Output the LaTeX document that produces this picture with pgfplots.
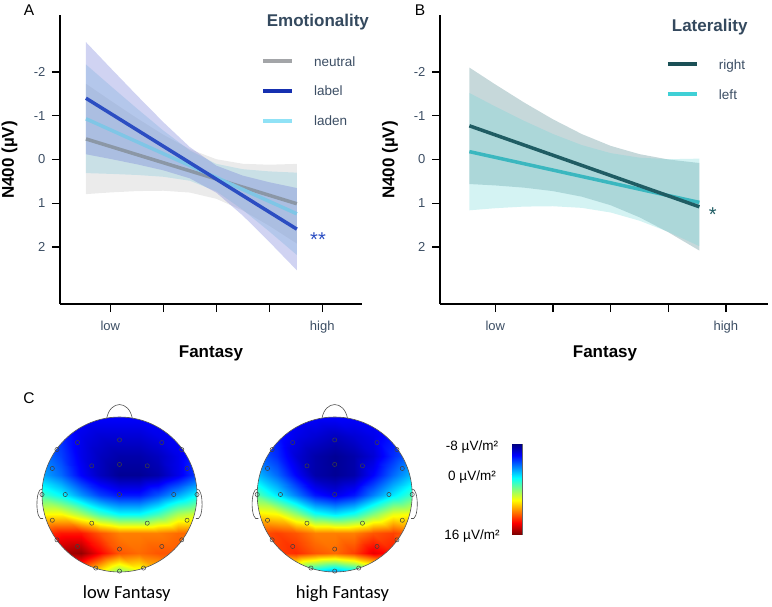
\documentclass[border=0pt]{standalone}
\usepackage{pgfplots}
\usepackage{pgfplotstable}
\pgfplotsset{compat=1.18}
\usepackage{fontspec}
\setmainfont{Liberation Sans}
\newfontfamily\carlito{Carlito}

\definecolor{labcol}{HTML}{3C4E64}
\definecolor{titlecol}{HTML}{34495E}
\definecolor{neutralband}{HTML}{B0B0B0}
\definecolor{ladenband}{HTML}{7CC8DC}
\definecolor{labelband}{HTML}{6F78D8}
\definecolor{neutralline}{HTML}{8B97A6}
\definecolor{labelline}{HTML}{2B4DC2}
\definecolor{ladenline}{HTML}{7FC6E6}
\definecolor{neutralleg}{HTML}{A3A5A8}
\definecolor{labelleg}{HTML}{1630B0}
\definecolor{ladenleg}{HTML}{90E2F6}
\definecolor{rightband}{HTML}{5D8F96}
\definecolor{leftband}{HTML}{6FD6D8}
\definecolor{rightline}{HTML}{1F5C63}
\definecolor{leftline}{HTML}{3AB7BF}
\definecolor{rightleg}{HTML}{1B5056}
\definecolor{leftleg}{HTML}{3FD0D6}
\definecolor{headcol}{HTML}{505050}

\newcommand{\ticksz}{\fontsize{13}{15}\selectfont}
\newcommand{\legsz}{\fontsize{13.5}{16}\selectfont}
\newcommand{\labsz}{\fontsize{17}{20}\selectfont\bfseries}

% topographic maps: x y value (µV/m^2)
\pgfplotstableread{
x y v
-1 -1 10
-0.75 -1 11
-0.5 -1 10
-0.25 -1 7
0 -1 4
0.25 -1 6
0.5 -1 8
0.75 -1 9
1 -1 9
-1 -0.75 13
-0.75 -0.75 15
-0.5 -0.75 15.5
-0.25 -0.75 13
0 -0.75 11
0.25 -0.75 10.5
0.5 -0.75 11
0.75 -0.75 11
1 -0.75 10
-1 -0.5 11.5
-0.75 -0.5 12.5
-0.5 -0.5 12.5
-0.25 -0.5 11
0 -0.5 10
0.25 -0.5 10
0.5 -0.5 10
0.75 -0.5 10.5
1 -0.5 10.5
-1 -0.25 7
-0.75 -0.25 7
-0.5 -0.25 5
-0.25 -0.25 2.5
0 -0.25 1
0.25 -0.25 1
0.5 -0.25 2.5
0.75 -0.25 5
1 -0.25 6
-1 0 2.5
-0.75 0 1
-0.5 0 -1.5
-0.25 0 -3.5
0 0 -4.5
0.25 0 -4.5
0.5 0 -3
0.75 0 -1
1 0 1
-1 0.25 -1
-0.75 0.25 -2.5
-0.5 0.25 -5
-0.25 0.25 -6.5
0 0.25 -7.5
0.25 0.25 -7.5
0.5 0.25 -7
0.75 0.25 -5.5
1 0.25 -3.5
-1 0.5 -2
-0.75 0.5 -3.5
-0.5 0.5 -5.5
-0.25 0.5 -6.5
0 0.5 -7
0.25 0.5 -7
0.5 0.5 -6.5
0.75 0.5 -5.5
1 0.5 -4
-1 0.75 -3
-0.75 0.75 -4
-0.5 0.75 -5.5
-0.25 0.75 -6
0 0.75 -6
0.25 0.75 -6
0.5 0.75 -5.5
0.75 0.75 -5
1 0.75 -4
-1 1 -4
-0.75 1 -4.5
-0.5 1 -5
-0.25 1 -5
0 1 -5
0.25 1 -5
0.5 1 -5
0.75 1 -4.5
1 1 -4
}\lowtopo

\pgfplotstableread{
x y v
-1 -1 0
-0.75 -1 2
-0.5 -1 3
-0.25 -1 0
0 -1 -1.5
0.25 -1 0
0.5 -1 3
0.75 -1 4
1 -1 2
-1 -0.75 9
-0.75 -0.75 11.5
-0.5 -0.75 12
-0.25 -0.75 11
0 -0.75 10.5
0.25 -0.75 11.5
0.5 -0.75 13.5
0.75 -0.75 12.5
1 -0.75 9
-1 -0.5 11
-0.75 -0.5 11.5
-0.5 -0.5 11
-0.25 -0.5 10
0 -0.5 10
0.25 -0.5 10
0.5 -0.5 11
0.75 -0.5 11.5
1 -0.5 10.5
-1 -0.25 7.5
-0.75 -0.25 7
-0.5 -0.25 4.5
-0.25 -0.25 1.5
0 -0.25 0.5
0.25 -0.25 1.5
0.5 -0.25 4
0.75 -0.25 6.5
1 -0.25 7
-1 0 3
-0.75 0 0.5
-0.5 0 -2
-0.25 0 -4.5
0 0 -5.5
0.25 0 -4.5
0.5 0 -2
0.75 0 0.5
1 0 2.5
-1 0.25 -0.5
-0.75 0.25 -2.5
-0.5 0.25 -5
-0.25 0.25 -7
0 0.25 -7.5
0.25 0.25 -7
0.5 0.25 -5
0.75 0.25 -2.5
1 0.25 -0.5
-1 0.5 -2.5
-0.75 0.5 -4
-0.5 0.5 -6
-0.25 0.5 -7
0 0.5 -7.5
0.25 0.5 -7
0.5 0.5 -6
0.75 0.5 -4
1 0.5 -2.5
-1 0.75 -3.5
-0.75 0.75 -4.5
-0.5 0.75 -5.5
-0.25 0.75 -6
0 0.75 -6.5
0.25 0.75 -6
0.5 0.75 -5.5
0.75 0.75 -4.5
1 0.75 -3.5
-1 1 -4
-0.75 1 -4.5
-0.5 1 -5
-0.25 1 -5
0 1 -5
0.25 1 -5
0.5 1 -5
0.75 1 -4.5
1 1 -4
}\hightopo

\pgfplotsset{
  linepanel/.style={
    anchor=south west, scale only axis, height=289pt,
    ymin=-3.3, ymax=3.3, y dir=reverse,
    axis x line*=bottom, axis y line*=left,
    axis line style={line width=1.5pt, black, -},
    xtick={0,1,2,3,4}, xticklabels={low,,,,high},
    ytick={-2,-1,0,1,2}, yticklabels={-2,-1,0,1,2},
    tick align=outside, major tick length=8pt,
    tick style={line width=1.2pt, black},
    ticklabel style={font=\ticksz, text=labcol},
    xticklabel style={yshift=-6pt},
    yticklabel style={xshift=-3pt},
    clip=false,
    legend cell align=left,
    legend image code/.code={\draw[#1] (0pt,0pt) -- (29pt,0pt);},
  },
  headpanel/.style={
    anchor=center, scale only axis, width=170.5pt, height=170.5pt,
    xmin=-1.1, xmax=1.1, ymin=-1.1, ymax=1.1, hide axis, clip=false,
    colormap/jet, point meta min=-8, point meta max=16,
  },
  electrode/.style={only marks, mark=o, mark size=2.1pt,
    mark options={draw=black!75, line width=0.5pt, solid}},
}

\newcommand{\headdeco}{%
  \fill[white, even odd rule] (axis cs:-1.1,-1.1) rectangle (axis cs:1.1,1.1)
     (axis cs:0,0) circle [radius=77.5pt];
  \draw[headcol, line width=0.6pt] (axis cs:0,0) circle [radius=77.5pt];
  \draw[headcol, line width=0.6pt] (axis cs:-0.165,0.983) .. controls (axis cs:-0.12,1.22) and (axis cs:0.12,1.22) .. (axis cs:0.165,0.983);
  \draw[headcol, line width=0.6pt] (axis cs:-0.998,0.07) .. controls (axis cs:-1.09,0.09) and (axis cs:-1.09,-0.37) .. (axis cs:-0.985,-0.31);
  \draw[headcol, line width=0.6pt] (axis cs:0.998,0.07) .. controls (axis cs:1.09,0.09) and (axis cs:1.09,-0.37) .. (axis cs:0.985,-0.31);
  \addplot[electrode] coordinates {
    (-0.542,0.670) (0,0.704) (0.546,0.670) (-0.807,0.580) (0.803,0.580)
    (-0.867,0.336) (-0.358,0.370) (0,0.388) (0.358,0.370) (0.872,0.336)
    (-1.0,0) (-0.70,0) (0,0) (0.70,0) (1.0,0)
    (-0.867,-0.332) (-0.358,-0.370) (0.358,-0.370) (0.872,-0.332)
    (-0.807,-0.585) (-0.542,-0.670) (0,-0.704) (0.546,-0.670) (0.803,-0.585)
    (-0.306,-0.949) (0,-0.988) (0.31,-0.949)};
}

\begin{document}
\begin{tikzpicture}
\path[use as bounding box] (0,0) rectangle (772pt,-606pt);

% ---------------- Panel A ----------------
\begin{axis}[linepanel, at={(60pt,-304pt)}, width=302pt,
  xmin=-0.95, xmax=4.75,
  legend style={at={(axis description cs:0.6656,0.8581)}, anchor=north west,
    draw=none, fill=none, inner sep=0pt, outer sep=0pt,
    row sep=19.85pt, column sep=20pt, font=\legsz, text=labcol,
    nodes={inner sep=0pt, text height=10pt, text depth=0pt}},
]
\addlegendimage{neutralleg, line width=4pt}
\addlegendentry{neutral}
\addlegendimage{labelleg, line width=4pt}
\addlegendentry{label}
\addlegendimage{ladenleg, line width=4pt}
\addlegendentry{laden}
% confidence bands
\addplot[forget plot, draw=none, fill=neutralband, fill opacity=0.25] coordinates {
 (-0.46,-1.73) (0,-1.35) (0.5,-0.947) (1,-0.567) (1.5,-0.237) (2,-0.007) (2.5,0.097) (3,0.119) (3.52,0.10)
 (3.52,1.92) (3,1.515) (2.5,1.165) (2,0.897) (1.5,0.755) (1,0.713) (0.5,0.721) (0,0.752) (-0.46,0.79)};
\addplot[forget plot, draw=none, fill=ladenband, fill opacity=0.3] coordinates {
 (-0.46,-2.17) (0,-1.686) (0.5,-1.167) (1,-0.662) (1.5,-0.207) (2,0.098) (2.5,0.221) (3,0.271) (3.52,0.30)
 (3.52,2.18) (3,1.643) (2.5,1.149) (2,0.726) (1.5,0.485) (1,0.394) (0.5,0.353) (0,0.328) (-0.46,0.31)};
\addplot[forget plot, draw=none, fill=labelband, fill opacity=0.33] coordinates {
 (-0.46,-2.68) (0,-2.095) (0.5,-1.467) (1,-0.853) (1.5,-0.284) (2,0.139) (2.5,0.368) (3,0.519) (3.52,0.651)
 (3.52,2.529) (3,1.881) (2.5,1.280) (2,0.757) (1.5,0.430) (1,0.247) (0.5,0.109) (0,-0.013) (-0.46,-0.12)};
% fitted lines
\addplot[forget plot, neutralline, line width=3.5pt] coordinates {(-0.46,-0.47) (3.52,1.01)};
\addplot[forget plot, ladenline, line width=3.5pt] coordinates {(-0.46,-0.93) (3.52,1.24)};
\addplot[forget plot, labelline, line width=3.5pt] coordinates {(-0.46,-1.40) (3.52,1.59)};
\node[text=labelline, font=\fontsize{20}{22}\selectfont] at (axis cs:3.92,1.82) {**};
\end{axis}

% ---------------- Panel B ----------------
\begin{axis}[linepanel, at={(440pt,-304pt)}, width=328pt,
  xmin=-0.96, xmax=4.73,
  legend style={at={(axis description cs:0.689,0.8478)}, anchor=north west,
    draw=none, fill=none, inner sep=0pt, outer sep=0pt,
    row sep=20pt, column sep=20pt, font=\legsz, text=labcol,
    nodes={inner sep=0pt, text height=10pt, text depth=0pt}},
]
\addlegendimage{rightleg, line width=4pt}
\addlegendentry{right}
\addlegendimage{leftleg, line width=4pt}
\addlegendentry{left}
\addplot[forget plot, draw=none, fill=rightband, fill opacity=0.35] coordinates {
 (-0.45,-2.10) (0,-1.714) (0.5,-1.301) (1,-0.918) (1.5,-0.581) (2,-0.312) (2.5,-0.123) (3,-0.001) (3.54,0.08)
 (3.54,2.08) (3,1.661) (2.5,1.319) (2,1.044) (1.5,0.849) (1,0.722) (0.5,0.643) (0,0.592) (-0.45,0.56)};
\addplot[forget plot, draw=none, fill=leftband, fill opacity=0.3] coordinates {
 (-0.45,-1.52) (0,-1.21) (0.5,-0.883) (1,-0.583) (1.5,-0.330) (2,-0.146) (2.5,-0.043) (3,-0.007) (3.54,-0.02)
 (3.54,1.98) (3,1.653) (2.5,1.397) (2,1.210) (1.5,1.104) (1,1.067) (0.5,1.075) (0,1.112) (-0.45,1.16)};
\addplot[forget plot, leftline, line width=3.5pt] coordinates {(-0.45,-0.18) (3.54,0.98)};
\addplot[forget plot, rightline, line width=3.5pt] coordinates {(-0.45,-0.77) (3.54,1.08)};
\node[text=rightline, font=\fontsize{20}{22}\selectfont] at (axis cs:3.77,1.25) {*};
\end{axis}

% ---------------- Panel C: topographies ----------------
\begin{axis}[headpanel, at={(119.5pt,-494.5pt)}]
\addplot[surf, shader=interp, point meta=explicit, mesh/cols=9] table[x=x, y=y, meta=v] {\lowtopo};
\headdeco
\end{axis}
\begin{axis}[headpanel, at={(334.7pt,-494.5pt)}]
\addplot[surf, shader=interp, point meta=explicit, mesh/cols=9] table[x=x, y=y, meta=v] {\hightopo};
\headdeco
\end{axis}

% colour bar
\begin{axis}[at={(511.7pt,-534.3pt)}, anchor=south west, scale only axis,
  width=10pt, height=90pt, xmin=0, xmax=1, ymin=-8, ymax=16, y dir=reverse,
  colormap/jet, point meta min=-8, point meta max=16,
  xtick=\empty, ytick={0}, yticklabels={}, ytick pos=left,
  tick align=inside, major tick length=3pt, tick style={black, line width=0.6pt},
  axis line style={black!60, line width=0.4pt}]
\addplot[surf, shader=interp, point meta=explicit] coordinates {
 (0,-8) [-8] (1,-8) [-8]

 (0,16) [16] (1,16) [16]};
\end{axis}

% ---------------- texts ----------------
\node[font=\fontsize{15.5}{18}\selectfont, anchor=base] at (29pt,-15pt) {A};
\node[font=\fontsize{15.5}{18}\selectfont, anchor=base] at (420pt,-15pt) {B};
\node[font=\fontsize{15.5}{18}\selectfont, anchor=base] at (29pt,-403pt) {C};

\node[font=\labsz, rotate=90] at (9.5pt,-160pt) {N400 (µV)};
\node[font=\labsz, rotate=90] at (390pt,-160pt) {N400 (µV)};
\node[font=\labsz, anchor=base] at (211pt,-357pt) {Fantasy};
\node[font=\labsz, anchor=base] at (605pt,-357pt) {Fantasy};

\node[font=\labsz, text=titlecol, anchor=base west, inner sep=0pt] at (266.7pt,-26.5pt) {Emotionality};
\node[font=\labsz, text=titlecol, anchor=base west, inner sep=0pt] at (671.7pt,-31pt) {Laterality};

\node[font=\fontsize{13.5}{16}\selectfont, anchor=base] at (472pt,-450pt) {-8 µV/m²};
\node[font=\fontsize{13.5}{16}\selectfont, anchor=base] at (472pt,-480pt) {0 µV/m²};
\node[font=\fontsize{13.5}{16}\selectfont, anchor=base] at (472pt,-539.3pt) {16 µV/m²};

\node[font=\carlito\fontsize{18.5}{22}\selectfont, anchor=base] at (126.7pt,-598pt) {low Fantasy};
\node[font=\carlito\fontsize{18.5}{22}\selectfont, anchor=base] at (342.5pt,-598pt) {high Fantasy};
\end{tikzpicture}
\end{document}
